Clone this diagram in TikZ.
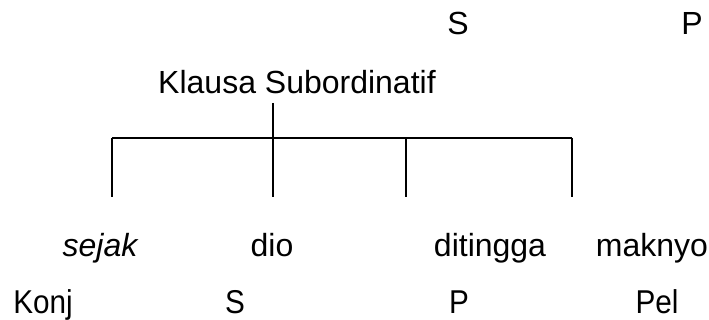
\documentclass[tikz,border=0pt]{standalone}
\usepackage{fontspec}
\setmainfont{Liberation Sans}
\begin{document}
\begin{tikzpicture}[x=1pt,y=-1pt,
  lbl/.style={font=\fontsize{32}{36}\selectfont, inner sep=0pt, anchor=base},
  low/.style={lbl, font=\fontsize{33}{36}\selectfont, xscale=0.9},
  tree/.style={line width=1.6pt}]
\useasboundingbox (0,0) rectangle (709,320);
\node[lbl] (tS) at (458,35) {S};
\node[lbl] (tP) at (692,35) {P};
\node[lbl] (kl) at (297,94) {Klausa Subordinatif};
\coordinate (top) at (273,103);
\coordinate (j0) at (112,138);
\coordinate (j1) at (273,138);
\coordinate (j2) at (406,138);
\coordinate (j3) at (572,138);
\coordinate (b0) at (112,197);
\coordinate (b1) at (273,197);
\coordinate (b2) at (406,197);
\coordinate (b3) at (572,197);
\draw[tree] (top) -- (j1);
\draw[tree] (j0) -- (j3);
\draw[tree] (j0) -- (b0);
\draw[tree] (j1) -- (b1);
\draw[tree] (j2) -- (b2);
\draw[tree] (j3) -- (b3);
\node[lbl] (w1) at (100,257) {\itshape sejak};
\node[lbl] (w2) at (272,257) {dio};
\node[lbl] (w3) at (490,257) {ditingga};
\node[lbl] (w4) at (652,257) {maknyo};
\node[low] (f1) at (43,313) {Konj};
\node[low] (f2) at (235,313) {S};
\node[low] (f3) at (459,313) {P};
\node[low] (f4) at (657,313) {Pel};
\end{tikzpicture}
\end{document}
